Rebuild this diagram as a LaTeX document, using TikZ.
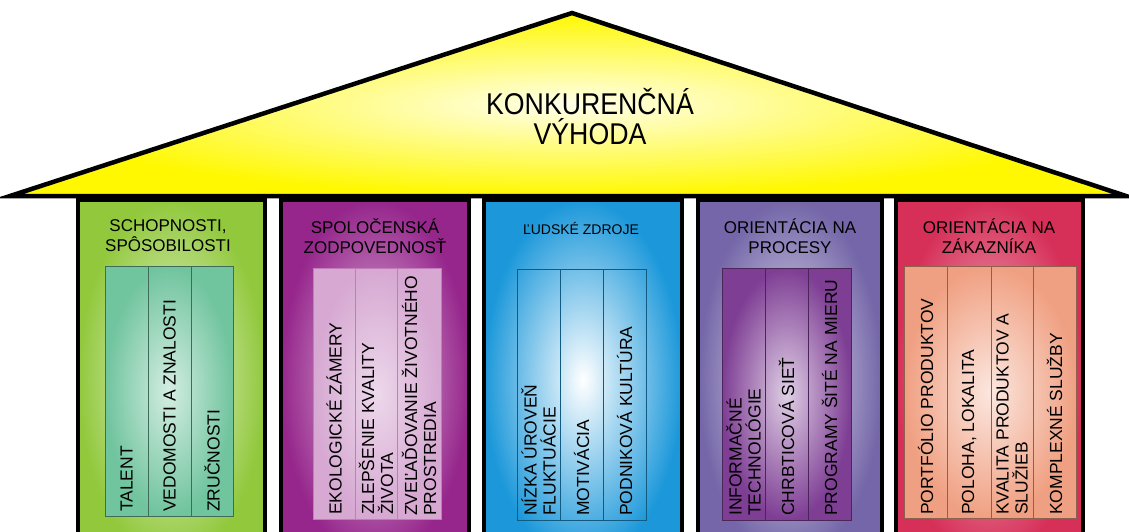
\documentclass[tikz,border=0pt]{standalone}
\usepackage{fontspec}
\setmainfont{Liberation Sans}
\newfontfamily\narrowfont[FakeStretch=0.89]{Liberation Sans}

\definecolor{roofyellow}{RGB}{255,248,0}
\definecolor{rooflight}{RGB}{255,255,235}
\definecolor{skillgreen}{RGB}{145,200,60}
\definecolor{skillmint}{RGB}{112,196,158}
\definecolor{socialplum}{RGB}{150,38,140}
\definecolor{socialpink}{RGB}{214,168,210}
\definecolor{humanblue}{RGB}{28,152,218}
\definecolor{processlav}{RGB}{116,102,168}
\definecolor{processpurple}{RGB}{126,62,148}
\definecolor{customerred}{RGB}{214,48,88}
\definecolor{customersalmon}{RGB}{240,160,130}

\tikzset{
    pillar/.style={draw=black,line width=3.5pt,shading=radial},
    colbox/.style={line width=0.8pt,shading=radial},
    pillartitle/.style={align=center,inner sep=0pt,text=black,
        font=\fontsize{17}{20}\selectfont},
    coltext/.style={rotate=90,anchor=west,inner sep=0pt,align=left,
        text=black,font=\fontsize{17.5}{19}\selectfont},
}

\begin{document}
\begin{tikzpicture}[x=1pt,y=-1pt]
        \useasboundingbox (0,0) rectangle (1129,531);
        \clip (0,0) rectangle (1129,531);

        % Pillar faces
        \path [pillar,inner color=white!85!skillgreen,outer color=skillgreen]
            (78,200) rectangle (265,560);
        \path [pillar,inner color=white!70!socialplum,outer color=socialplum]
            (281,200) rectangle (469,560);
        \path [pillar,inner color=white,outer color=humanblue]
            (484,200) rectangle (682,560);
        \path [pillar,inner color=white!85!processlav,outer color=processlav]
            (698,200) rectangle (882,560);
        \path [pillar,inner color=white!65!customerred,outer color=customerred]
            (896,200) rectangle (1083,560);

        % Column boxes
        \path [colbox,draw=skillmint!55!black,inner color=white!70!skillmint,
            outer color=skillmint] (105,266) rectangle (233,516);
        \draw [skillmint!55!black,line width=0.8pt] (148,266) -- (148,516);
        \draw [skillmint!55!black,line width=0.8pt] (191,266) -- (191,516);

        \path [colbox,draw=socialplum!60,inner color=white!55!socialpink,
            outer color=socialpink] (313,268) rectangle (441,519);
        \draw [socialplum!60,line width=0.8pt] (355,268) -- (355,519);
        \draw [socialplum!60,line width=0.8pt] (397,268) -- (397,519);

        \draw [humanblue!60!black,line width=0.8pt] (517,269) rectangle (646,520);
        \draw [humanblue!60!black,line width=0.8pt] (560,269) -- (560,520);
        \draw [humanblue!60!black,line width=0.8pt] (603,269) -- (603,520);

        \path [colbox,draw=processpurple!60!black,inner color=white!75!processpurple,
            outer color=processpurple] (722,268) rectangle (851,520);
        \draw [processpurple!60!black,line width=0.8pt] (765,268) -- (765,520);
        \draw [processpurple!60!black,line width=0.8pt] (808,268) -- (808,520);

        \path [colbox,draw=customersalmon!60!black,inner color=white!75!customersalmon,
            outer color=customersalmon] (904,266) rectangle (1076,518);
        \draw [customersalmon!60!black,line width=0.8pt] (947,266) -- (947,518);
        \draw [customersalmon!60!black,line width=0.8pt] (991,266) -- (991,518);
        \draw [customersalmon!60!black,line width=0.8pt] (1033,266) -- (1033,518);

        % Roof
        \path [draw=black,line width=4.5pt,line join=miter,shading=radial,
            inner color=rooflight,outer color=roofyellow]
            (10,196) -- (572,13) -- (1126,196) -- cycle;
        \node [align=center,inner sep=0pt,text=black,
            font=\narrowfont\fontsize{30}{30}\selectfont]
            (advantage) at (590,117) {KONKURENČNÁ\\VÝHODA};

        % Pillar titles
        \node [pillartitle] (skills) at (168,236) {SCHOPNOSTI,\\SPÔSOBILOSTI};
        \node [pillartitle] (social) at (375,236) {SPOLOČENSKÁ\\ZODPOVEDNOSŤ};
        \node [pillartitle,font=\fontsize{14}{16}\selectfont]
            (human) at (581,228) {ĽUDSKÉ ZDROJE};
        \node [pillartitle] (process) at (790,236) {ORIENTÁCIA NA\\PROCESY};
        \node [pillartitle] (customer) at (989,236) {ORIENTÁCIA NA\\ZÁKAZNÍKA};

        % Column texts
        \node [coltext] (talent) at (126.5,512) {TALENT};
        \node [coltext] (knowledge) at (169.5,512) {VEDOMOSTI A ZNALOSTI};
        \node [coltext] (craft) at (212,512) {ZRUČNOSTI};

        \node [coltext] (ecology) at (334,515) {EKOLOGICKÉ ZÁMERY};
        \node [coltext] (life) at (376,515) {ZLEPŠENIE KVALITY\\ŽIVOTA};
        \node [coltext] (environment) at (419,516) {ZVEĽAĎOVANIE ŽIVOTNÉHO\\PROSTREDIA};

        \node [coltext] (fluctuation) at (538.5,516) {NÍZKA ÚROVEŇ\\FLUKTUÁCIE};
        \node [coltext] (motivation) at (581.5,516) {MOTIVÁCIA};
        \node [coltext] (culture) at (624.5,516) {PODNIKOVÁ KULTÚRA};

        \node [coltext] (it) at (743.5,516) {INFORMAČNÉ\\TECHNOLÓGIE};
        \node [coltext] (backbone) at (786.5,516) {CHRBTICOVÁ SIEŤ};
        \node [coltext] (software) at (829.5,516) {PROGRAMY ŠITÉ NA MIERU};

        \node [coltext] (portfolio) at (925.5,515) {PORTFÓLIO PRODUKTOV};
        \node [coltext] (location) at (969,515) {POLOHA, LOKALITA};
        \node [coltext] (quality) at (1012,515) {KVALITA PRODUKTOV A\\SLUŽIEB};
        \node [coltext] (services) at (1054.5,515) {KOMPLEXNÉ SLUŽBY};
\end{tikzpicture}
\end{document}
